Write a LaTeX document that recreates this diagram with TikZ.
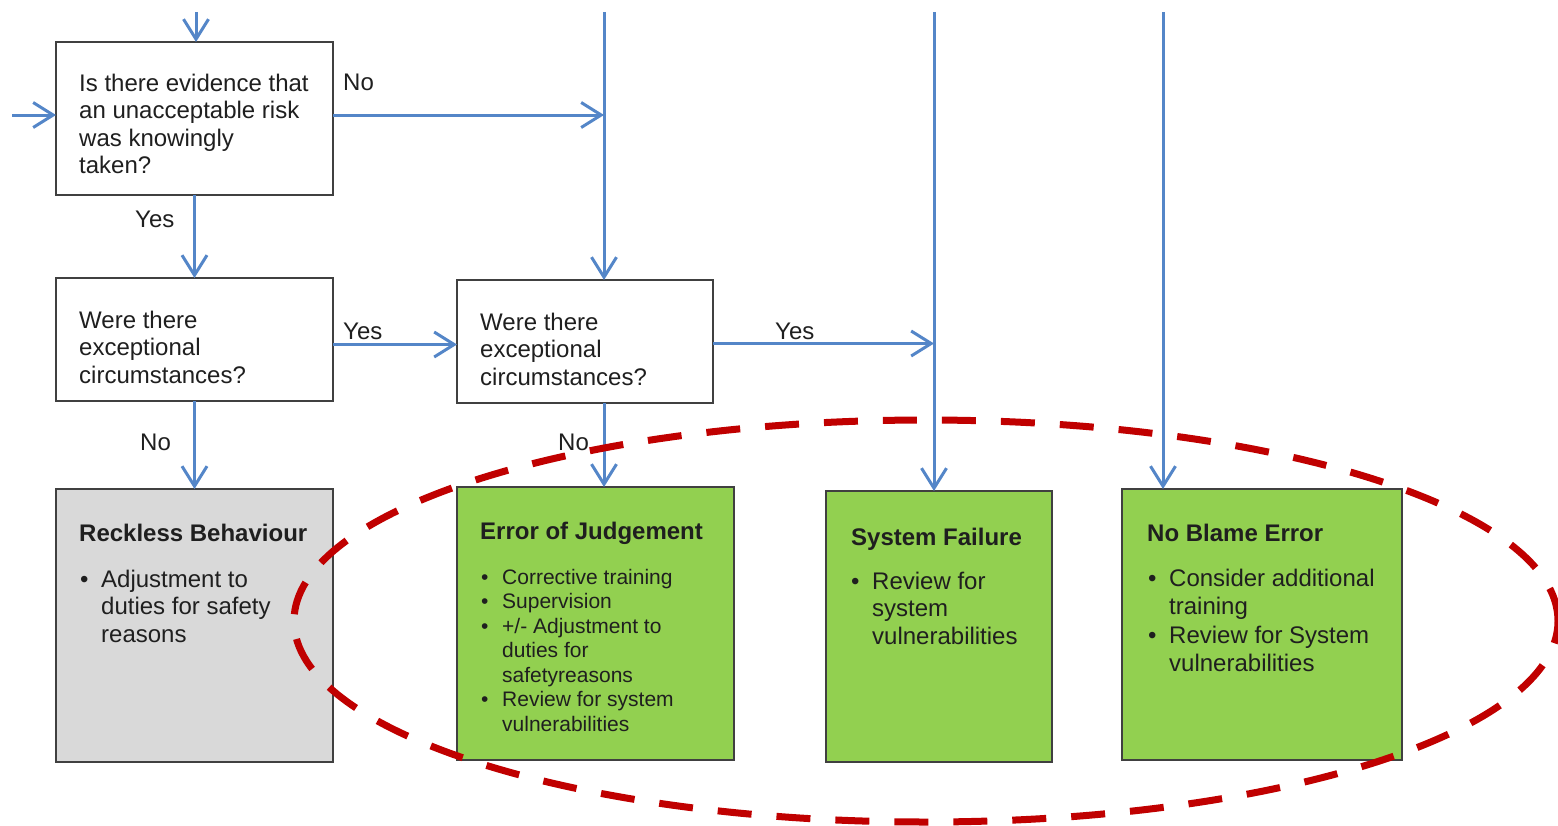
\documentclass[tikz,border=0pt]{standalone}
\usepackage{fontspec}
\setmainfont{Liberation Sans}
\usetikzlibrary{arrows.meta}

\definecolor{flowblue}{RGB}{84,134,200}
\definecolor{boxedge}{RGB}{64,64,64}
\definecolor{okgreen}{RGB}{146,208,80}
\definecolor{softgray}{RGB}{217,217,217}
\definecolor{alertred}{RGB}{192,0,0}

% bullet with a fixed hanging indent, and the matching indent for wrapped lines
\newcommand{\itembul}{\makebox[21pt][l]{\textbullet}}
\newcommand{\itemind}{\hspace*{21pt}}

\tikzset{
  box/.style={draw=boxedge, line width=2.4pt, anchor=north west, inner sep=0pt, outer sep=0pt},
  question/.style={box, fill=white},
  outcome/.style={box, fill=okgreen},
  reckless/.style={box, fill=softgray},
  % multi-line texts are placed by the baseline of their last line
  txt/.style={anchor=base west, inner sep=0pt, align=left, text=black!88,
              font=\fontsize{24}{27.5}\selectfont},
  smalltxt/.style={txt, font=\fontsize{21}{24.5}\selectfont},
  ttl/.style={txt, font=\bfseries\fontsize{24}{27.5}\selectfont},
  lbl/.style={anchor=base west, inner sep=0pt, text=black!88, font=\fontsize{24}{27}\selectfont},
  flow/.style={draw=flowblue, line width=3pt,
               -{Straight Barb[length=20pt,width=25pt,line width=3pt]}},
  ring/.style={draw=alertred, line width=7pt, dash pattern=on 34pt off 25pt}
}

\begin{document}
\begin{tikzpicture}[x=1pt,y=-1pt]
\useasboundingbox (0,0) rectangle (1558,825);

% decision boxes
\node[question, minimum width=277pt, minimum height=153pt] (q1) at (56,42) {};
\node[question, minimum width=277pt, minimum height=123pt] (q2) at (56,278) {};
\node[question, minimum width=256pt, minimum height=123pt] (q3) at (457,280) {};

% outcome boxes
\node[reckless, minimum width=277pt, minimum height=273pt] (rb) at (56,489) {};
\node[outcome, minimum width=277pt, minimum height=273pt] (ej) at (457,487) {};
\node[outcome, minimum width=226pt, minimum height=271pt] (sf) at (826,491) {};
\node[outcome, minimum width=280pt, minimum height=271pt] (nb) at (1122,489) {};

% question texts
\node[txt] (q1t) at (79,173.5) {Is there evidence that\\an unacceptable risk\\was knowingly\\taken?};
\node[txt] (q2t) at (79,383) {Were there\\exceptional\\circumstances?};
\node[txt] (q3t) at (480,385) {Were there\\exceptional\\circumstances?};

% outcome texts
\node[ttl] (rbt) at (79,541) {Reckless Behaviour};
\node[txt] (rbl) at (80,642) {\itembul Adjustment to\\\itemind duties for safety\\\itemind reasons};

\node[ttl] (ejt) at (480,539) {Error of Judgement};
\node[smalltxt] (ejl) at (481,731) {\itembul Corrective training\\\itembul Supervision\\\itembul +/- Adjustment to\\\itemind duties for\\\itemind safetyreasons\\\itembul Review for system\\\itemind vulnerabilities};

\node[ttl] (sft) at (851,545) {System Failure};
\node[txt] (sfl) at (851,644) {\itembul Review for\\\itemind system\\\itemind vulnerabilities};

\node[ttl] (nbt) at (1147,541) {No Blame Error};
\node[txt] (nbl) at (1148,671) {\itembul Consider additional\\\itemind training\\[2pt]\itembul Review for System\\\itemind vulnerabilities};

% free ends of the incoming lines
\coordinate (in1) at (196,12);
\coordinate (inl) at (12,115);
\coordinate (in2) at (604,12);
\coordinate (in3) at (934,12);
\coordinate (in4) at (1163,12);
\coordinate (j1) at (604,115);

% connectors
\draw[flow] (in1) -- (in1 |- q1.north);
\draw[flow] (inl) -- (inl -| q1.west);
\draw[flow] (q1.east |- j1) -- (j1);
\draw[flow] (in2) -- (in2 |- q3.north);
\draw[flow] (q1.south) -- (q2.north);
\draw[flow] ([yshift=-5pt]q2.east) -- ([yshift=-5pt]q2.east -| q3.west);
\draw[flow] (q2.south) -- (rb.north);
\draw[flow] (in2 |- q3.south) -- (in2 |- ej.north);
\draw[flow] ([yshift=-2pt]q3.east) -- ([yshift=-2pt]q3.east -| in3);
\draw[flow] (in3) -- (in3 |- sf.north);
\draw[flow] (in4) -- (in4 |- nb.north);

% branch labels
\node[lbl] (l1) at (343,90) {No};
\node[lbl] (l2) at (135,227) {Yes};
\node[lbl] (l3) at (343,339) {Yes};
\node[lbl] (l4) at (140,450) {No};
\node[lbl] (l5) at (558,450) {No};
\node[lbl] (l6) at (775,339) {Yes};

% dashed ring round the non-reckless outcomes
\draw[ring] (926,621) ellipse [x radius=632pt, y radius=201pt];
\end{tikzpicture}
\end{document}
